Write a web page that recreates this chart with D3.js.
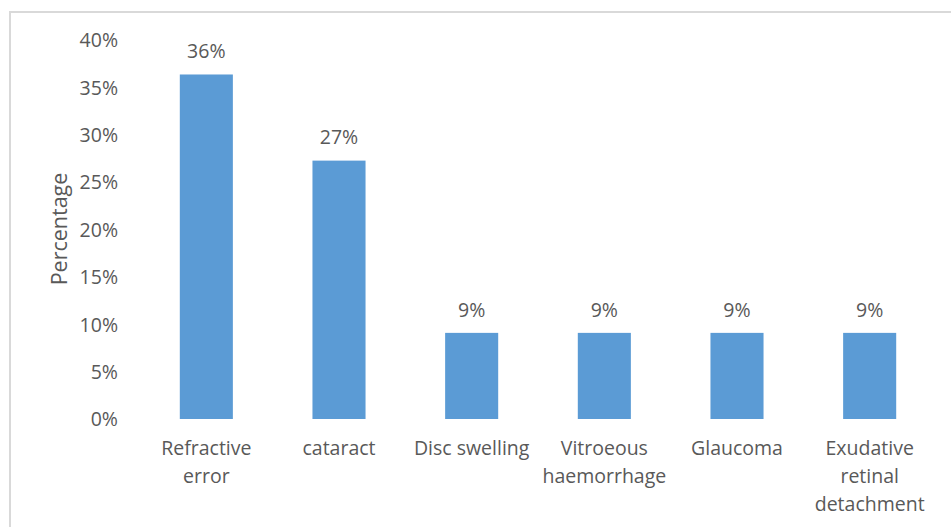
<!DOCTYPE html>
<html><head><meta charset="utf-8">
<script src="https://cdn.jsdelivr.net/npm/d3@7"></script>
<style>body{margin:0;background:#fff}svg{display:block}text{font-family:"Open Sans",sans-serif;fill:#595959}</style>
</head><body>
<svg id="c" width="951" height="527"></svg>
<script>
const categories = [["Refractive","error"],["cataract"],["Disc swelling"],["Vitroeous","haemorrhage"],["Glaucoma"],["Exudative","retinal","detachment"]];
const values = [36.36, 27.27, 9.09, 9.09, 9.09, 9.09];
const valueLabels = ["36%","27%","9%","9%","9%","9%"];
const yTicks = [0,5,10,15,20,25,30,35,40];

const svg = d3.select("#c");
svg.append("rect").attr("x",10).attr("y",12).attr("width",960).attr("height",540)
  .attr("fill","none").attr("stroke","#d9d9d9").attr("stroke-width",2);

const x = d3.scaleBand().domain(d3.range(categories.length)).range([140,936]).paddingInner(0.6).paddingOuter(0.3);
const y = d3.scaleLinear().domain([0,40]).range([419,40]);

const ya = svg.append("g").attr("transform","translate(118,0)")
  .call(d3.axisLeft(y).tickValues(yTicks).tickFormat(d=>d+"%").tickSize(0).tickPadding(0));
ya.select(".domain").remove();
ya.selectAll("text").attr("font-size",19.5).style("font-family","'Open Sans',sans-serif").attr("fill","#595959").attr("dy","0.35em");

svg.append("g").selectAll("rect").data(values).join("rect")
  .attr("x",(d,i)=>x(i)).attr("width",x.bandwidth())
  .attr("y",d=>y(d)).attr("height",d=>y(0)-y(d)).attr("fill","#5b9bd5");

svg.append("g").selectAll("text").data(values).join("text")
  .attr("x",(d,i)=>x(i)+x.bandwidth()/2).attr("y",d=>y(d)-23).attr("dy","0.35em")
  .attr("text-anchor","middle").attr("font-size",19.5).attr("fill","#404040").text((d,i)=>valueLabels[i]);

const xl = svg.append("g").selectAll("text").data(categories).join("text")
  .attr("text-anchor","middle").attr("font-size",19.5)
  .attr("transform",(d,i)=>`translate(${x(i)+x.bandwidth()/2},448)`);
xl.selectAll("tspan").data(d=>d).join("tspan").attr("x",0).attr("y",(d,j)=>j*28).attr("dy","0.35em").text(d=>d);

svg.append("text").attr("transform","translate(59,229) rotate(-90)").attr("text-anchor","middle")
  .attr("dy","0.35em").attr("font-size",21.5).text("Percentage");
</script>
</body></html>
